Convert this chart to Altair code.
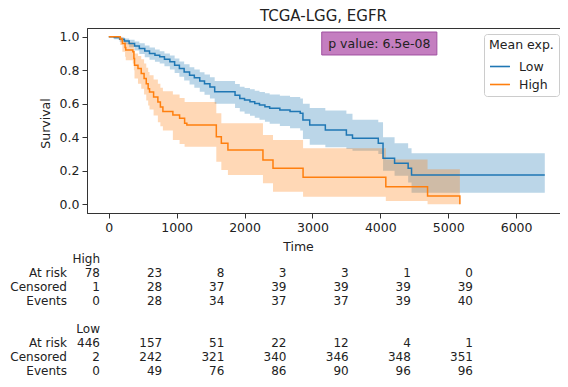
import altair as alt
import pandas as pd

# ---- Kaplan-Meier estimates ----
low_t = [0, 80, 160, 230, 300, 380, 450, 530, 600, 680, 750, 820, 900, 970, 1040, 1110, 1190, 1260, 1340,
         1410, 1490, 1560, 1860, 1930, 2000, 2080, 2150, 2220, 2300, 2370, 2520, 2670, 2820, 2860, 2960,
         3190, 3500, 3590, 3970, 4040, 4210, 4410, 4460, 6423]
low_s = [1.0, 0.995, 0.985, 0.975, 0.96, 0.945, 0.93, 0.915, 0.90, 0.89, 0.88, 0.865, 0.85, 0.83, 0.81,
         0.79, 0.77, 0.755, 0.735, 0.72, 0.70, 0.672, 0.65, 0.632, 0.622, 0.612, 0.602, 0.592, 0.582,
         0.573, 0.563, 0.553, 0.543, 0.503, 0.473, 0.443, 0.413, 0.394, 0.364, 0.275, 0.245, 0.215,
         0.175, 0.175]
low_up = [1.0, 1.0, 0.997, 0.99, 0.982, 0.972, 0.961, 0.948, 0.935, 0.924, 0.913, 0.9, 0.888, 0.87,
          0.852, 0.835, 0.818, 0.805, 0.788, 0.775, 0.758, 0.735, 0.718, 0.702, 0.694, 0.686, 0.678, 0.67,
          0.662, 0.655, 0.647, 0.64, 0.632, 0.60, 0.575, 0.56, 0.54, 0.505, 0.49, 0.40, 0.364, 0.335,
          0.304, 0.304]
low_lo = [1.0, 0.985, 0.97, 0.955, 0.937, 0.917, 0.897, 0.878, 0.862, 0.85, 0.84, 0.823, 0.805, 0.783,
          0.761, 0.738, 0.715, 0.696, 0.672, 0.654, 0.632, 0.60, 0.574, 0.553, 0.541, 0.529, 0.517, 0.505,
          0.492, 0.48, 0.467, 0.454, 0.44, 0.39, 0.355, 0.34, 0.33, 0.32, 0.30, 0.20, 0.17, 0.13,
          0.069, 0.069]

high_t = [0, 168, 200, 240, 250, 354, 370, 379, 430, 478, 520, 552, 580, 600, 660, 723, 760, 797, 944,
          1043, 1117, 1150, 1584, 1658, 1755, 2271, 2419, 2862, 4081, 4696, 5172]
high_s = [1.0, 0.987, 0.96, 0.935, 0.92, 0.91, 0.87, 0.83, 0.81, 0.78, 0.75, 0.72, 0.69, 0.67, 0.64, 0.61,
          0.58, 0.553, 0.533, 0.513, 0.483, 0.473, 0.403, 0.364, 0.324, 0.264, 0.215, 0.161, 0.105, 0.05,
          0.0]
high_up = [1.0, 1.0, 0.99, 0.975, 0.965, 0.955, 0.93, 0.90, 0.885, 0.865, 0.84, 0.815, 0.79, 0.77, 0.745,
           0.72, 0.695, 0.675, 0.655, 0.635, 0.61, 0.61, 0.543, 0.483, 0.483, 0.413, 0.384, 0.334, 0.268,
           0.209, 0.209]
high_lo = [1.0, 0.95, 0.91, 0.88, 0.86, 0.84, 0.80, 0.75, 0.72, 0.69, 0.655, 0.62, 0.59, 0.565, 0.53,
           0.49, 0.465, 0.44, 0.384, 0.36, 0.344, 0.344, 0.254, 0.205, 0.175, 0.125, 0.075, 0.045, 0.02,
           0.0, 0.0]

groups = ["Low", "High"]
colors = ["#1f77b4", "#ff7f0e"]
title_text = "TCGA-LGG, EGFR"
p_text = "p value: 6.5e-08"

# ---- number-at-risk table ----
table_times = [0, 1000, 2000, 3000, 4000, 5000, 6000]
high_at_risk = [78, 23, 8, 3, 3, 1, 0]
high_censored = [1, 28, 37, 39, 39, 39, 39]
high_events = [0, 28, 34, 37, 37, 39, 40]
low_at_risk = [446, 157, 51, 22, 12, 4, 1]
low_censored = [2, 242, 321, 340, 346, 348, 351]
low_events = [0, 49, 76, 86, 90, 96, 96]
row_names = ["At risk", "Censored", "Events"]
y_ticks = [0.0, 0.2, 0.4, 0.6, 0.8, 1.0]

# ---- build tables ----
km_rows = []
for g, ts, ss, us, ls in [("Low", low_t, low_s, low_up, low_lo), ("High", high_t, high_s, high_up, high_lo)]:
    for t, s, u, l in zip(ts, ss, us, ls):
        km_rows.append({"group": g, "t": t, "s": s, "up": u, "lo": l})
km = pd.DataFrame(km_rows)

tab_rows = []
label_rows = []
for base, g, blocks in [(0, "High", [high_at_risk, high_censored, high_events]),
                        (5, "Low", [low_at_risk, low_censored, low_events])]:
    tab_rows.append({"col": 0, "row": base, "txt": g})
    for i, vals in enumerate(blocks):
        label_rows.append({"row": base + 1 + i, "txt": row_names[i]})
        for t, v in zip(table_times, vals):
            tab_rows.append({"col": t, "row": base + 1 + i, "txt": str(v)})
tab = pd.DataFrame(tab_rows)
labs = pd.DataFrame(label_rows)

FONT = "DejaVu Sans"
xscale = alt.Scale(domain=[-321, 6647], nice=False, zero=False)
yscale = alt.Scale(domain=[-0.052, 1.052], nice=False, zero=False)

xaxis = alt.Axis(values=table_times, grid=False, format="d", title="Time", titleX=211, titleY=33,
                 titleBaseline="middle", titleAlign="center", tickSize=5, labelPadding=3,
                 labelOverlap=False)
yaxis = alt.Axis(values=y_ticks, grid=False, format=".1f", title="Survival",
                 titleX=-42, titleY=95, titleAngle=270, titleBaseline="middle", titleAlign="center",
                 tickSize=5, labelPadding=3, labelOverlap=False)
cscale = alt.Scale(domain=groups, range=colors)

bands = []
for g, c in zip(groups, colors):
    bands.append(
        alt.Chart(km).mark_area(interpolate="step-after", opacity=0.3, color=c).encode(
            x=alt.X("t:Q", scale=xscale, axis=xaxis),
            y=alt.Y("lo:Q", scale=yscale, axis=yaxis),
            y2="up:Q",
        ).transform_filter(alt.datum.group == g)
    )

line = alt.Chart(km).mark_line(interpolate="step-after", strokeWidth=1.5).encode(
    x=alt.X("t:Q", scale=xscale, axis=xaxis),
    y=alt.Y("s:Q", scale=yscale, axis=yaxis),
    stroke=alt.Stroke("group:N", scale=cscale,
                      legend=alt.Legend(title="Mean exp.", orient="none", legendX=397, legendY=6)),
)

pbox = alt.Chart(km).mark_rect(fill="#c47ec0", stroke="#a050a0", strokeWidth=1).encode(
    x=alt.X(datum=3137, scale=xscale, axis=xaxis), x2=alt.datum(4833),
    y=alt.Y(datum=1.028, scale=yscale, axis=yaxis), y2=alt.datum(0.891),
).transform_filter("datum.t == 0 && datum.group == 'Low'")

ptext = alt.Chart(km).mark_text(text=p_text, font=FONT, fontSize=12.5, color="#222222",
                                baseline="middle", align="center").encode(
    x=alt.X(datum=3985, scale=xscale, axis=xaxis),
    y=alt.Y(datum=0.958, scale=yscale, axis=yaxis),
).transform_filter("datum.t == 0 && datum.group == 'Low'")

main = alt.layer(*bands, line, pbox, ptext)

tx = alt.Scale(domain=[0, 6000], range=[13, 386])
ty = alt.Scale(domain=[0, 8], range=[231, 343])

table = alt.Chart(tab).mark_text(align="right", baseline="middle", font=FONT, fontSize=12,
                                 color="#222222").encode(
    x=alt.X("col:Q", scale=tx, axis=None),
    y=alt.Y("row:Q", scale=ty, axis=None),
    text="txt:N",
)
rowlabels = alt.Chart(labs).mark_text(align="right", baseline="middle", font=FONT, fontSize=12,
                                      color="#222222", dx=-33).encode(
    x=alt.X(datum=0, scale=tx, axis=None),
    y=alt.Y("row:Q", scale=ty, axis=None),
    text="txt:N",
)
tbl = alt.layer(table, rowlabels)

chart = alt.layer(main, tbl).resolve_scale(x="independent", y="independent").properties(
    width=473, height=185,
    autosize=alt.AutoSizeParams(type="none"),
    padding={"left": 79, "top": 20, "right": 0, "bottom": 166},
    title=alt.TitleParams(title_text, font=FONT, fontSize=15, fontWeight="normal", anchor="middle",
                          frame="group", offset=4, color="#222222"),
).configure_view(stroke="#333333", strokeWidth=1).configure_axis(
    labelFont=FONT, titleFont=FONT, labelFontSize=12.5, titleFontSize=12.5, titleFontWeight="normal",
    labelColor="#222222", titleColor="#222222", domainColor="#333333", tickColor="#333333",
    labelOverlap=False,
).configure_legend(
    symbolType="stroke", symbolSize=400, symbolStrokeWidth=1.6,
    labelFontSize=12.5, titleFontSize=12.5, titleFontWeight="normal", labelFont=FONT, titleFont=FONT,
    padding=5, rowPadding=0, strokeColor="#cccccc", cornerRadius=3, fillColor="white",
    titlePadding=4, labelOffset=8, labelColor="#222222", titleColor="#222222",
)

chart.save("out.html", embed_options={"renderer": "svg", "actions": False})
